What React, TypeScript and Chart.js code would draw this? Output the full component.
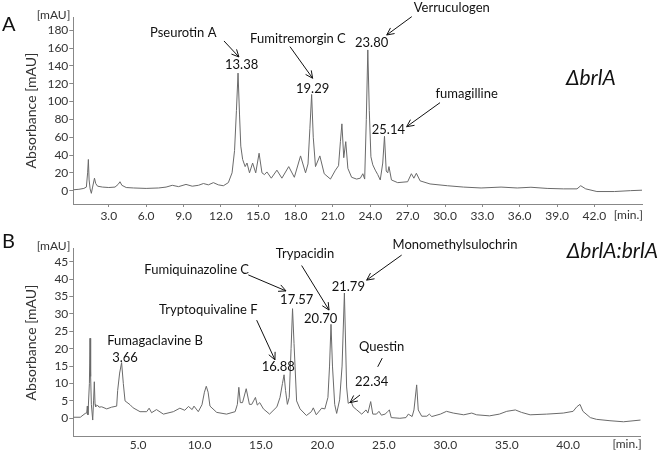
import React, { useEffect, useRef } from "react";
import { Chart, registerables } from "chart.js";

Chart.register(...registerables);

// ---------- Panel A (ΔbrlA) ----------
const timeA = [
  0.15, 0.6, 1.0, 1.2, 1.3, 1.36, 1.42, 1.5, 1.6, 1.7, 1.85, 1.95, 2.1, 2.5, 3.0, 3.5, 3.75, 3.9, 4.05, 4.4,
  5.0, 6.0, 7.0, 7.6, 8.1, 8.6, 9.2, 9.7, 10.2, 10.6, 11.0, 11.4, 11.8, 12.2, 12.6, 12.9, 13.1, 13.25, 13.38, 13.5,
  13.6, 13.75, 13.95, 14.1, 14.3, 14.55, 14.8, 15.07, 15.3, 15.5, 15.7, 16.05, 16.5, 16.9, 17.45, 17.9, 18.4, 18.8, 19.0, 19.15,
  19.29, 19.42, 19.6, 19.95, 20.3, 20.8, 21.2, 21.45, 21.6, 21.72, 21.87, 22.03, 22.2, 22.5, 22.9, 23.2, 23.4, 23.55, 23.68, 23.8,
  23.92, 24.05, 24.2, 24.4, 24.6, 24.8, 25.0, 25.14, 25.28, 25.4, 25.5, 25.7, 26.2, 27.0, 27.3, 27.5, 27.7, 28.0, 28.8, 30.2,
  31.5, 32.9, 34.5, 35.8, 36.9, 38.2, 39.5, 40.6, 40.9, 41.3, 42.2, 43.6, 44.9, 45.82,
];
const absA = [
  1, 1.5, 2.5, 4, 20, 35, 12, 2, -3, 4, 14, 8, 5, 4, 3.5, 4, 7, 10, 6, 3.5,
  3, 2.5, 3, 4, 6, 4.5, 7, 5, 6, 8, 6.5, 9, 6.5, 5.5, 9, 20, 45, 90, 132, 85,
  50, 35, 27, 31, 20, 31, 20, 42, 20, 18, 21, 14, 23, 14, 27, 15, 39, 20, 30, 70,
  108, 60, 27, 39, 19, 13, 23, 28, 55, 75, 37, 55, 25, 15, 13, 14, 19, 13, 80, 158,
  90, 38, 29, 23, 18, 12, 31, 61, 22, 20, 27, 12, 9, 10, 19, 14, 19.5, 11, 7.5, 5.5,
  4, 3, 4, 3, 3.8, 2.5, 2, 2, 5.5, 2, -1, -1, 0, 0.5,
];
const xTicksA = [3, 6, 9, 12, 15, 18, 21, 24, 27, 30, 33, 36, 39, 42];
const yTicksA = [0, 20, 40, 60, 80, 100, 120, 140, 160, 180];

// ---------- Panel B (ΔbrlA:brlA) ----------
const timeB = [
  -0.27, 0.3, 0.7, 0.82, 0.87, 0.92, 1.04, 1.09, 1.14, 1.2, 1.31, 1.38, 1.44, 1.5, 1.55, 1.69, 1.82, 2.04, 2.45, 2.85,
  3.26, 3.34, 3.5, 3.66, 3.8, 3.94, 4.35, 4.6, 5.16, 5.7, 5.9, 6.1, 6.5, 7.06, 7.87, 8.4, 8.8, 9.1, 9.4, 9.55,
  9.9, 10.2, 10.4, 10.55, 10.7, 10.85, 11.4, 12.2, 12.9, 13.08, 13.2, 13.32, 13.5, 13.8, 14.06, 14.25, 14.4, 14.55, 14.7, 14.9,
  15.2, 15.7, 16.3, 16.55, 16.75, 16.88, 17.0, 17.15, 17.3, 17.45, 17.57, 17.69, 17.9, 18.18, 18.7, 19.1, 19.26, 19.5, 19.94, 20.2,
  20.45, 20.58, 20.7, 20.82, 21.0, 21.16, 21.4, 21.6, 21.79, 21.97, 22.1, 22.34, 22.5, 22.8, 23.2, 23.55, 23.7, 23.93, 24.1, 24.4,
  24.6, 24.8, 25.1, 25.28, 25.45, 25.6, 26.3, 26.8, 26.99, 27.3, 27.45, 27.67, 27.8, 28.08, 28.5, 28.7, 28.9, 29.6, 30.1, 30.65,
  31.5, 32.15, 32.55, 33.6, 34.4, 35.0, 35.7, 36.2, 36.9, 38.25, 39.6, 40.4, 40.7, 40.96, 41.2, 41.8, 42.3, 43.4, 44.5, 45.9,
];
const absB = [
  0.3, 0.3, 1.4, 1.5, 3.5, 1, 10, 23, 12, 4, -0.5, 5, 10.5, 4, 3.3, 3.8, 3.2, 3.3, 2.7, 3.2,
  3.5, 8, 13, 16, 10, 5, 3.9, 3, 1.9, 1.9, 2.9, 1.6, 2.5, 1.2, 1.9, 2.9, 2.3, 3.4, 2.5, 3.5,
  1.9, 3.9, 7.5, 9.2, 7.5, 3.5, 1.7, 1.2, 1.9, 4, 8.9, 4.5, 4.5, 8.5, 4, 4, 5, 6, 3.8, 4.5,
  2.7, 1.2, 3.3, 6, 10, 12.5, 8, 4, 6, 20, 31.5, 21.5, 5, 2.7, 0.8, 1.9, 3, 1, 2.9, 2.7,
  6, 15, 27, 15, 4, 1.4, 5.3, 15, 36, 9, 4.3, 4.8, 3.3, 2.4, 1.2, 2.4, 1.5, 4.8, 1.2, 1.2,
  2, 0.9, 1.2, 1.8, 2.4, 0.2, 0, 0.2, 1.2, 0.5, 2.4, 9.6, 2.4, 0.6, 0.6, 1.2, 0.5, 1.2, 2, 1.5,
  1, 1.5, 1, 0.7, 1.2, 2, 2.4, 1.7, 1, 1.2, 1.5, 2, 3.3, 4, 2, 0.2, -0.3, -0.7, -1, -0.5,
];
const xTicksB = [5, 10, 15, 20, 25, 30, 35, 40];
const yTicksB = [0, 5, 10, 15, 20, 25, 30, 35, 40, 45];

// ---------- Annotations (data coordinates) ----------
type Note = { text: string; x: number; y: number };
type Arrow = [number, number, number, number];

const notesA: Note[] = [
  { text: "Pseurotin A", x: 8.98, y: 177 },
  { text: "13.38", x: 13.67, y: 141 },
  { text: "Fumitremorgin C", x: 18.19, y: 170.3 },
  { text: "19.29", x: 19.37, y: 113.8 },
  { text: "Verruculogen", x: 30.54, y: 204.8 },
  { text: "23.80", x: 24.11, y: 165.5 },
  { text: "fumagilline", x: 31.74, y: 109.3 },
  { text: "25.14", x: 25.45, y: 68.1 },
];
const arrowsA: Arrow[] = [
  [12.25, 168.1, 13.45, 150.1],
  [17.55, 161.7, 19.37, 126.2],
  [27.33, 195.4, 25.32, 174.8],
  [29.6, 98.8, 26.92, 71.8],
];
const notesB: Note[] = [
  { text: "Fumagaclavine B", x: 6.38, y: 22.2 },
  { text: "3.66", x: 3.94, y: 17.4 },
  { text: "Fumiquinazoline C", x: 9.77, y: 42.6 },
  { text: "17.57", x: 17.91, y: 34.0 },
  { text: "Tryptoquivaline F", x: 10.72, y: 31.1 },
  { text: "16.88", x: 16.41, y: 14.7 },
  { text: "Trypacidin", x: 18.58, y: 47.4 },
  { text: "20.70", x: 19.86, y: 28.5 },
  { text: "Monomethylsulochrin", x: 30.79, y: 49.8 },
  { text: "21.79", x: 22.11, y: 37.8 },
  { text: "Questin", x: 24.82, y: 20.6 },
  { text: "22.34", x: 24.01, y: 10.5 },
];
const arrowsB: Arrow[] = [
  [13.97, 41.2, 17.04, 36.6],
  [14.65, 28.2, 16.14, 16.8],
  [18.31, 43.9, 20.54, 31.1],
  [26.45, 46.9, 23.6, 39.7],
  [23.06, 6.7, 22.25, 4.5],
];
const plainLinesB: Arrow[] = [[24.5, 14.8, 24.87, 17.3]];

const FONT = 'Lato, "Open Sans", "Noto Sans", sans-serif';

type Panel = {
  time: number[];
  abs: number[];
  xTicks: number[];
  yTicks: number[];
  xMin: number;
  xMax: number;
  yMin: number;
  yMax: number;
  padTop: number;
  padRight: number;
  xHeight: number;
  xTickLen: number;
  xPad: number;
  notes: Note[];
  arrows: Arrow[];
  lines: Arrow[];
  letter: string;
  letterY: number;
  strain: string;
  strainX: number;
  strainY: number;
};

const panelA: Panel = {
  time: timeA, abs: absA, xTicks: xTicksA, yTicks: yTicksA,
  xMin: 0.15, xMax: 45.82, yMin: -15, yMax: 195,
  padTop: 17, padRight: 19, xHeight: 21, xTickLen: 3, xPad: 2,
  notes: notesA, arrows: arrowsA, lines: [],
  letter: "A", letterY: 25, strain: "ΔbrlA", strainX: 41.71, strainY: 126.2,
};
const panelB: Panel = {
  time: timeB, abs: absB, xTicks: xTicksB, yTicks: yTicksB,
  xMin: -0.27, xMax: 45.9, yMin: -5.29, yMax: 48.85,
  padTop: 23.3, padRight: 20.3, xHeight: 14.3, xTickLen: 0, xPad: 1,
  notes: notesB, arrows: arrowsB, lines: plainLinesB,
  letter: "B", letterY: 17, strain: "ΔbrlA:brlA", strainX: 43.6, strainY: 48.0,
};

function makeConfig(p: Panel): any {
  const annot = {
    id: "annot",
    afterDraw(chart: any) {
      const ctx = chart.ctx;
      const xs = chart.scales.x;
      const ys = chart.scales.y;
      const ca = chart.chartArea;
      ctx.save();
      ctx.fillStyle = "#111";
      ctx.strokeStyle = "#111";
      ctx.lineWidth = 1;
      ctx.textAlign = "center";
      ctx.textBaseline = "middle";
      ctx.font = `13px ${FONT}`;
      for (const n of p.notes) {
        ctx.fillText(n.text, xs.getPixelForValue(n.x), ys.getPixelForValue(n.y));
      }
      const drawLine = (a: Arrow, head: boolean) => {
        const x1 = xs.getPixelForValue(a[0]);
        const y1 = ys.getPixelForValue(a[1]);
        const x2 = xs.getPixelForValue(a[2]);
        const y2 = ys.getPixelForValue(a[3]);
        ctx.beginPath();
        ctx.moveTo(x1, y1);
        ctx.lineTo(x2, y2);
        if (head) {
          const ang = Math.atan2(y2 - y1, x2 - x1);
          const L = 8;
          const s = 0.45;
          ctx.moveTo(x2 - L * Math.cos(ang - s), y2 - L * Math.sin(ang - s));
          ctx.lineTo(x2, y2);
          ctx.lineTo(x2 - L * Math.cos(ang + s), y2 - L * Math.sin(ang + s));
        }
        ctx.stroke();
      };
      p.arrows.forEach((a) => drawLine(a, true));
      p.lines.forEach((a) => drawLine(a, false));

      // strain label
      ctx.font = `italic 21px ${FONT}`;
      ctx.fillText(p.strain, xs.getPixelForValue(p.strainX), ys.getPixelForValue(p.strainY));

      // panel letter
      ctx.textAlign = "left";
      ctx.font = `20px ${FONT}`;
      ctx.fillText(p.letter, 2, p.letterY);

      // unit label on y axis
      ctx.fillStyle = "#333";
      ctx.font = `12px ${FONT}`;
      ctx.textAlign = "right";
      ctx.fillText("[mAU]", ca.left - 3, ca.top - 2);

      // [min.] label
      ctx.textBaseline = "top";
      ctx.fillText("[min.]", ca.right + 1, ca.bottom + p.xTickLen + p.xPad);

      // y axis title
      ctx.save();
      ctx.translate(31, (ca.top + ca.bottom) / 2);
      ctx.rotate(-Math.PI / 2);
      ctx.textAlign = "center";
      ctx.textBaseline = "middle";
      ctx.font = `14px ${FONT}`;
      ctx.fillText("Absorbance [mAU]", 0, 0);
      ctx.restore();
      ctx.restore();
    },
  };

  return {
    type: "line",
    data: {
      datasets: [
        {
          data: p.time.map((t, i) => ({ x: t, y: p.abs[i] })),
          borderColor: "#6a6a6a",
          borderWidth: 1,
          pointRadius: 0,
          tension: 0,
          fill: false,
        },
      ],
    },
    options: {
      animation: false,
      responsive: false,
      events: [],
      layout: { padding: { top: p.padTop, right: p.padRight, bottom: 0, left: 0 } },
      plugins: { legend: { display: false }, tooltip: { enabled: false } },
      scales: {
        x: {
          type: "linear",
          min: p.xMin,
          max: p.xMax,
          afterBuildTicks: (s: any) => {
            s.ticks = p.xTicks.map((v) => ({ value: v }));
          },
          afterFit: (s: any) => {
            s.height = p.xHeight;
          },
          grid: {
            drawOnChartArea: false,
            drawTicks: p.xTickLen > 0,
            tickLength: p.xTickLen,
            color: "#888",
          },
          border: { display: true, color: "#888", width: 1 },
          ticks: {
            autoSkip: false,
            maxRotation: 0,
            padding: p.xPad,
            color: "#333",
            font: { family: FONT, size: 12 },
            callback: (v: any) => Number(v).toFixed(1),
          },
        },
        y: {
          type: "linear",
          min: p.yMin,
          max: p.yMax,
          afterBuildTicks: (s: any) => {
            s.ticks = p.yTicks.map((v) => ({ value: v }));
          },
          afterFit: (s: any) => {
            s.width = 73.3;
          },
          grid: { drawOnChartArea: false, drawTicks: true, tickLength: 4, color: "#888" },
          border: { display: true, color: "#888", width: 1 },
          ticks: {
            padding: 1,
            color: "#333",
            font: { family: FONT, size: 12 },
            callback: (v: any) => String(v),
          },
        },
      },
    },
    plugins: [annot],
  };
}

export default function App() {
  const refA = useRef<HTMLCanvasElement | null>(null);
  const refB = useRef<HTMLCanvasElement | null>(null);

  useEffect(() => {
    const a = new Chart(refA.current as HTMLCanvasElement, makeConfig(panelA));
    const b = new Chart(refB.current as HTMLCanvasElement, makeConfig(panelB));
    return () => {
      a.destroy();
      b.destroy();
    };
  }, []);

  return (
    <div style={{ position: "absolute", left: 0, top: 0, width: 661, height: 451, background: "#fff" }}>
      <canvas
        ref={refA}
        width={661}
        height={225}
        style={{ position: "absolute", left: 0, top: 0, width: 661, height: 225, display: "block" }}
      />
      <canvas
        ref={refB}
        width={661}
        height={226}
        style={{ position: "absolute", left: 0, top: 225, width: 661, height: 226, display: "block" }}
      />
    </div>
  );
}
